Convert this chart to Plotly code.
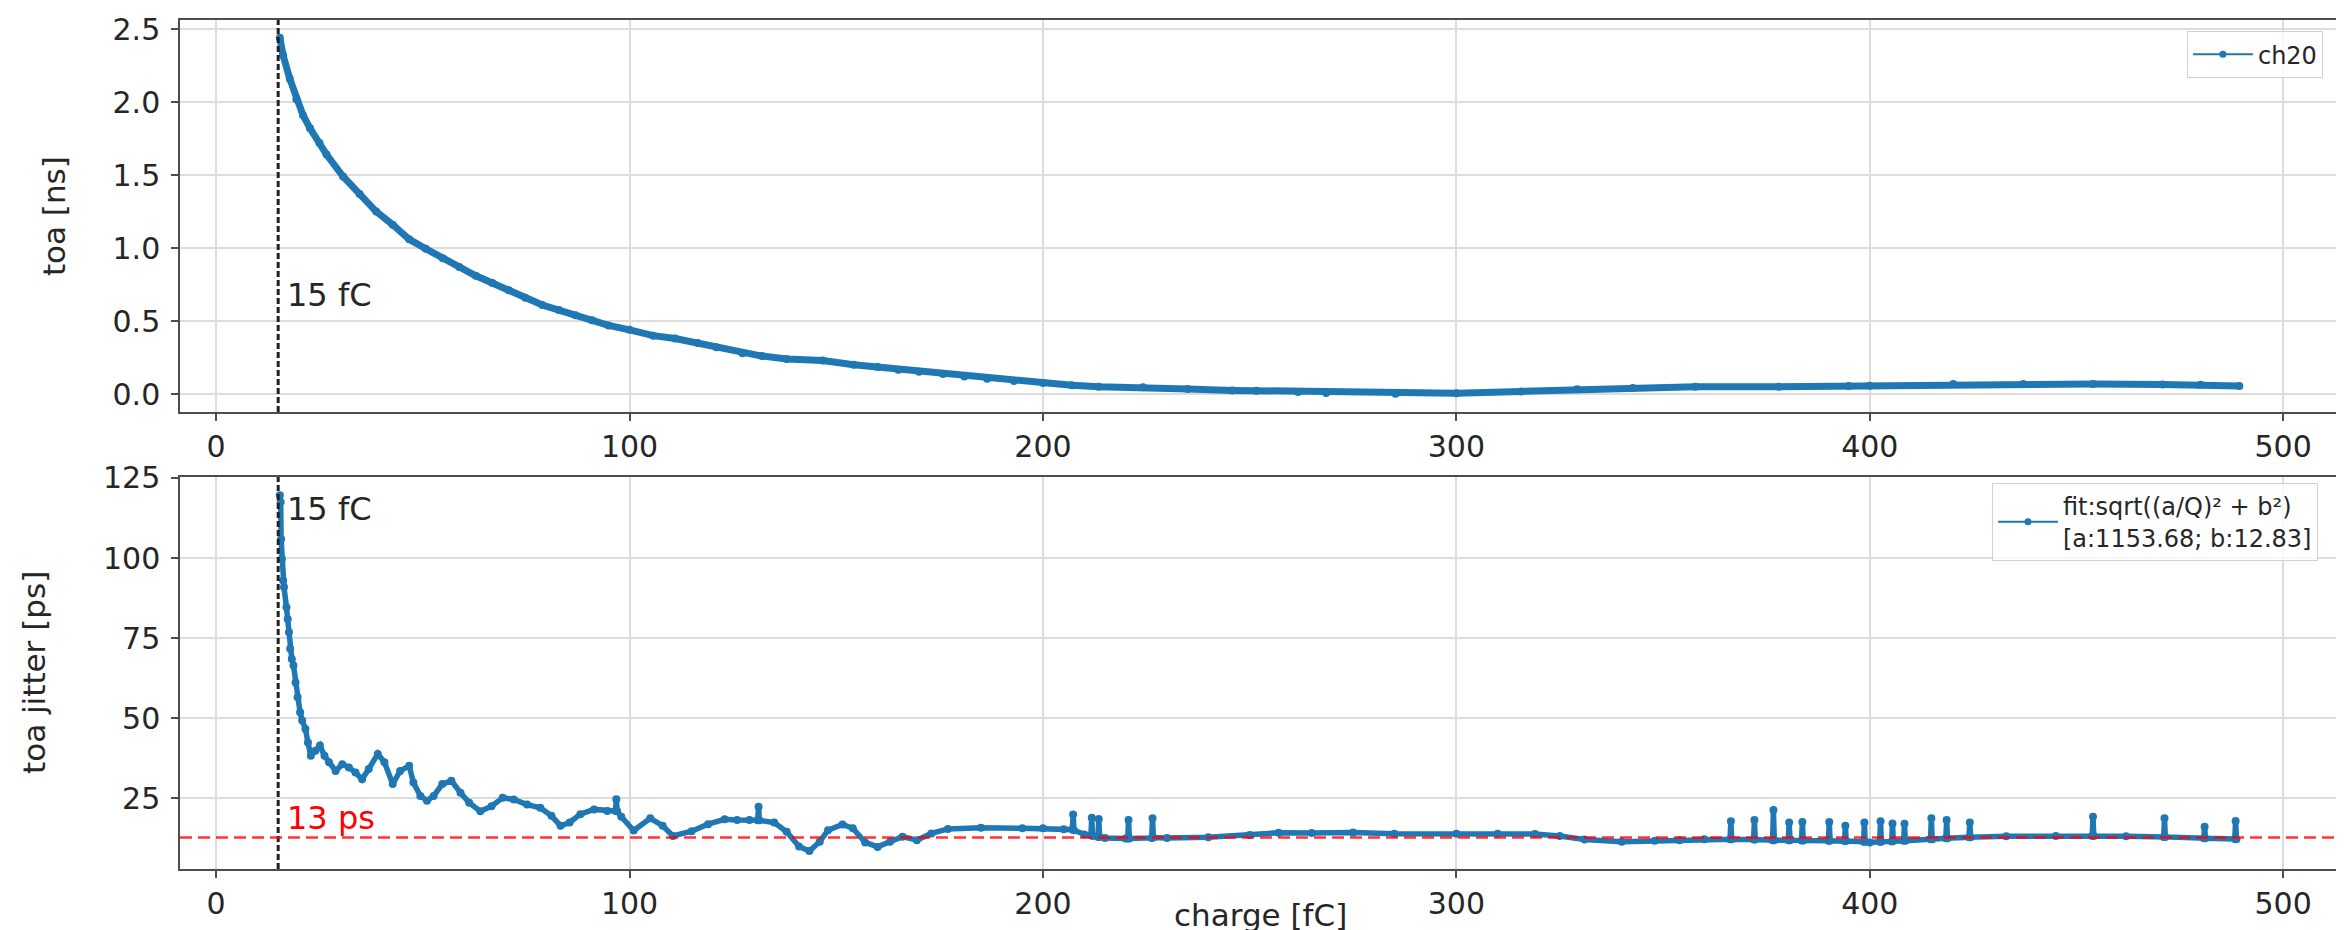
import plotly.graph_objects as go

# ---- data ----
toa_charge = [15.4, 16.2, 17.8, 19.4, 21.0, 22.7, 25.0, 26.7, 30.7, 34.7, 38.7, 42.7, 46.7, 50.7,
              54.8, 58.8, 62.8, 66.8, 70.8, 74.8, 78.9, 82.9, 86.9, 90.9, 94.9, 100.0, 105.7, 111.0,
              116.5, 121.0, 127.3, 132.0, 138.0, 146.7, 154.2, 160.0, 165.0, 170.0, 175.8, 181.0,
              186.5, 193.0, 200.0, 207.0, 213.5, 224.2, 235.0, 245.8, 251.6, 261.7, 268.5, 285.3,
              300.0, 315.7, 329.2, 342.7, 357.8, 378.0, 394.9, 400.0, 420.2, 437.1, 454.0, 470.8,
              480.0, 489.4]
toa_ns = [2.44, 2.32, 2.16, 2.02, 1.91, 1.82, 1.72, 1.64, 1.49, 1.37, 1.25, 1.16, 1.06, 0.995,
          0.93, 0.87, 0.81, 0.76, 0.71, 0.66, 0.61, 0.575, 0.54, 0.505, 0.47, 0.44, 0.40, 0.38,
          0.35, 0.32, 0.28, 0.26, 0.24, 0.23, 0.20, 0.185, 0.167, 0.152, 0.137, 0.12,
          0.105, 0.09, 0.075, 0.06, 0.05, 0.046, 0.034, 0.025, 0.023, 0.014, 0.007, 0.002,
          0.005, 0.018, 0.032, 0.041, 0.05, 0.05, 0.055, 0.057, 0.068, 0.068, 0.068, 0.066,
          0.064, 0.055]

jit_charge = [15.4, 15.6, 15.7, 15.9, 16.2, 16.4, 17.0, 17.3, 17.6, 17.9, 18.3, 18.7, 19.2, 19.7,
              20.3, 20.8, 21.6, 22.2, 22.9, 24.0, 25.1, 26.2, 27.3, 28.9, 30.5, 32.1, 33.7, 35.3,
              36.9, 39.1, 40.7, 42.7, 44.5, 46.7, 47.7, 49.4, 51.0, 52.6, 54.7, 56.9, 59.1, 61.2,
              63.9, 66.6, 69.3, 72.0, 75.2, 78.4, 81.1, 83.3, 85.5, 88.1, 91.4, 94.6, 96.6, 96.8,
              97.0, 98.0, 101.0, 105.0, 108.0, 110.5, 115.0, 119.0, 123.0, 126.0, 129.0, 131.0,
              131.2, 131.4, 135.0, 138.0, 141.0, 143.5, 146.0, 148.0, 151.5, 154.0, 157.0, 160.0,
              163.0, 166.0, 169.5, 173.0, 177.0, 185.0, 195.0, 200.0, 205.0, 207.1, 207.3, 207.5,
              210.0, 211.6, 211.8, 212.0, 213.3, 213.5, 213.7, 215.0, 220.0, 220.5, 220.7, 220.9,
              226.3, 226.5, 226.7, 230.0, 240.0, 250.0, 257.0, 265.0, 275.0, 285.0, 300.0, 310.0,
              319.0, 325.0, 331.0, 340.0, 348.0, 354.0, 360.0, 366.2, 366.4, 366.6, 371.9, 372.1,
              372.3, 376.5, 376.7, 376.9, 380.3, 380.5, 380.7, 383.5, 383.7, 383.9, 390.0, 390.2,
              390.4, 393.9, 394.1, 394.3, 398.5, 398.7, 398.9, 400.0, 402.4, 402.6, 402.8, 405.3,
              405.5, 405.7, 408.2, 408.4, 408.6, 414.7, 414.9, 415.1, 418.4, 418.6, 418.8, 424.0,
              424.2, 424.4, 433.0, 445.0, 453.8, 454.0, 454.2, 462.0, 471.1, 471.3, 471.5, 480.8,
              481.0, 481.2, 488.3, 488.5, 488.7]
jit_ps = [119.6, 117.5, 106.0, 99.8, 93.0, 91.0, 84.7, 81.0, 76.9, 71.7, 68.5, 66.5, 61.2, 56.6,
          51.9, 49.3, 46.7, 42.5, 38.3, 39.9, 41.5, 38.3, 36.3, 33.6, 35.7, 34.7, 33.1, 31.0,
          34.2, 38.9, 36.3, 29.5, 33.6, 35.2, 30.0, 25.8, 24.3, 25.8, 29.5, 30.5, 26.8, 23.7,
          21.0, 22.6, 25.2, 24.7, 23.1, 22.1, 19.6, 16.5, 17.5, 20.1, 21.6, 21.1, 21.1, 24.8,
          21.0, 19.3, 15.0, 18.8, 16.5, 13.3, 14.8, 17.0, 18.5, 18.3, 18.3, 18.2,
          22.4, 18.2, 17.5, 14.6, 10.0, 8.6, 11.5, 15.1, 16.9, 15.7, 11.3, 9.9,
          11.5, 13.1, 12.0, 14.1, 15.5, 15.9, 15.7, 15.7, 15.4, 15.3, 20.0, 15.1,
          13.8, 13.5, 19.0, 13.3, 13.0, 18.6, 13.0, 12.7, 12.5, 12.5, 18.3, 12.5,
          12.7, 18.8, 12.8, 12.7, 12.9, 13.6, 14.3, 14.2, 14.4, 14.0, 14.0, 14.0,
          13.9, 13.3, 12.2, 11.5, 11.8, 12.0, 12.3, 12.3, 17.9, 12.3, 12.2, 18.3,
          12.2, 12.0, 21.4, 12.0, 12.0, 17.5, 12.0, 11.9, 17.7, 11.9, 11.8, 17.7,
          11.8, 11.7, 16.5, 11.7, 11.5, 17.5, 11.5, 11.3, 11.5, 17.9, 11.5, 11.6,
          17.2, 11.7, 11.8, 17.1, 11.8, 12.3, 18.8, 12.3, 12.6, 18.3, 12.6, 12.9,
          17.5, 12.9, 13.2, 13.3, 13.3, 19.3, 13.3, 13.2, 13.0, 18.8, 13.0, 12.6,
          16.2, 12.6, 12.4, 18.0, 12.3]

threshold_fc = 15
fit_b = 12.83
x_ticks = [0, 100, 200, 300, 400, 500]
toa_ticks = [0.0, 0.5, 1.0, 1.5, 2.0, 2.5]
jit_ticks = [25, 50, 75, 100, 125]
toa_name = "ch20"
jit_name = "fit:sqrt((a/Q)² + b²)<br>[a:1153.68; b:12.83]"

BLUE = "#1f77b4"
TXT = "#262626"
GRID = "#dcdcdc"
SPINE = "#4d4d4d"
FONT = "DejaVu Sans"

fig = go.Figure()
fig.add_trace(go.Scatter(
    x=toa_charge, y=toa_ns, mode="lines+markers", name=toa_name, showlegend=False,
    line=dict(color=BLUE, width=7), marker=dict(color=BLUE, size=8),
    xaxis="x", yaxis="y"))
fig.add_trace(go.Scatter(
    x=jit_charge, y=jit_ps, mode="lines+markers", name=jit_name, showlegend=False,
    line=dict(color=BLUE, width=5.5), marker=dict(color=BLUE, size=8),
    xaxis="x2", yaxis="y2"))
# legend entries (thin line + dot, as in the reference legend)
fig.add_trace(go.Scatter(
    x=[None], y=[None], mode="lines+markers", name=toa_name,
    line=dict(color=BLUE, width=2), marker=dict(color=BLUE, size=7),
    xaxis="x", yaxis="y", legend="legend"))
fig.add_trace(go.Scatter(
    x=[None], y=[None], mode="lines+markers", name=jit_name,
    line=dict(color=BLUE, width=2), marker=dict(color=BLUE, size=7),
    xaxis="x2", yaxis="y2", legend="legend2"))

axis_common = dict(
    showline=True, linecolor=SPINE, linewidth=1.5, mirror=True,
    showgrid=True, gridcolor=GRID, gridwidth=1.5, zeroline=False,
    ticks="outside", ticklen=7, tickwidth=1.5, tickcolor=SPINE,
    tickfont=dict(family=FONT, size=30, color=TXT), automargin=False)

x_range = [-8.75, 513.75]
top_dom = [0.5383, 1.0]
bot_dom = [0.0, 0.4617]

legend_common = dict(xanchor="right", yanchor="top",
                     bgcolor="rgba(255,255,255,0.8)", bordercolor="#d0d0d0", borderwidth=1,
                     font=dict(family=FONT, size=24, color=TXT), itemwidth=60)

fig.update_layout(
    width=2344, height=930,
    margin=dict(l=172, r=12, t=12, b=69),
    paper_bgcolor="white", plot_bgcolor="white",
    font=dict(family=FONT, color=TXT),
    xaxis=dict(axis_common, range=x_range, tickvals=x_ticks, domain=[0, 1], anchor="y"),
    yaxis=dict(axis_common, range=[-0.123, 2.562], tickvals=toa_ticks, tickformat=".1f",
               domain=top_dom, anchor="x", ticklabelstandoff=5),
    xaxis2=dict(axis_common, range=x_range, tickvals=x_ticks, domain=[0, 1], anchor="y2"),
    yaxis2=dict(axis_common, range=[3.0, 125.3], tickvals=jit_ticks,
                domain=bot_dom, anchor="x2", ticklabelstandoff=5),
    legend=dict(legend_common, x=0.9921, y=0.987),
    legend2=dict(legend_common, x=0.9898, y=0.4547),
    showlegend=True,
)

# threshold lines
for xa, ya in (("x", "y"), ("x2", "y2")):
    fig.add_shape(type="line", xref=xa, yref=f"{ya} domain", x0=threshold_fc, x1=threshold_fc,
                  y0=0, y1=1, line=dict(color="#222222", width=3, dash="6px,3px"))
fig.add_shape(type="line", xref="x2 domain", yref="y2", x0=0, x1=1, y0=fit_b, y1=fit_b,
              line=dict(color="rgba(255,0,0,0.8)", width=2.5, dash="12px,6px"))

ann_font = dict(family=FONT, size=32, color=TXT)
fig.add_annotation(x=threshold_fc, y=0.68, xref="x", yref="y", text="15 fC", showarrow=False,
                   xanchor="left", yanchor="middle", xshift=7, font=ann_font)
fig.add_annotation(x=threshold_fc, y=115.3, xref="x2", yref="y2", text="15 fC", showarrow=False,
                   xanchor="left", yanchor="middle", xshift=7, font=ann_font)
fig.add_annotation(x=threshold_fc, y=18.8, xref="x2", yref="y2", text="13 ps", showarrow=False,
                   xanchor="left", yanchor="middle", xshift=7,
                   font=dict(family=FONT, size=32, color="red"))

# axis titles
title_font = dict(family=FONT, size=31, color=TXT)
fig.add_annotation(x=0, y=0.769, xref="paper", yref="paper", text="toa [ns]", showarrow=False,
                   textangle=-90, xanchor="center", yanchor="middle", xshift=-126, font=title_font)
fig.add_annotation(x=0, y=0.2309, xref="paper", yref="paper", text="toa jitter [ps]",
                   showarrow=False, textangle=-90, xanchor="center", yanchor="middle",
                   xshift=-146, font=title_font)
fig.add_annotation(x=0.5, y=-0.0542, xref="paper", yref="paper", text="charge [fC]",
                   showarrow=False, xanchor="center", yanchor="middle", font=title_font)

fig.write_html("out.html")
